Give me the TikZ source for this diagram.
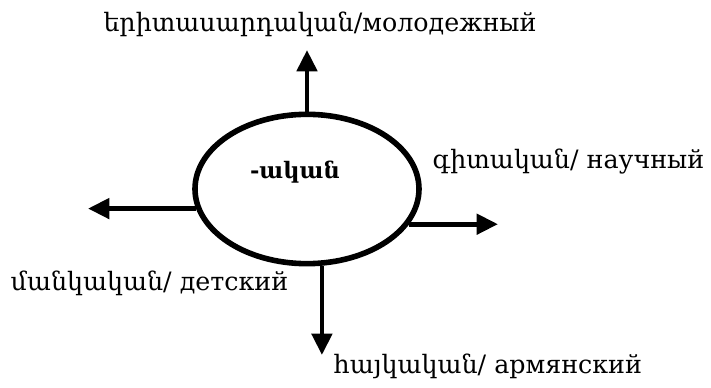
\documentclass[tikz,border=0pt]{standalone}
\usepackage{fontspec}
\setmainfont{DejaVu Serif}
\usetikzlibrary{shapes.geometric,arrows.meta}

\begin{document}
\begin{tikzpicture}[x=0.75pt, y=-0.75pt, font=\fontsize{19pt}{22pt}\selectfont,
    arr/.style={line width=3.6pt, -{Triangle[length=16pt, width=15pt]}}]
        \useasboundingbox (0,0) rectangle (711,388);
        \node[draw, ellipse, line width=4.2pt, minimum width=168pt, minimum height=112pt, inner sep=0pt] (akan) at (307,189) {};
        \node[font=\fontsize{17pt}{20pt}\selectfont\bfseries] (suffix) at (295,172) {-ական};

        \coordinate (tup) at (308,50);
        \coordinate (tleft) at (88,209);
        \coordinate (tright) at (498,225);
        \coordinate (tdown) at (321,355);

        \node (young) at (320,24) {երիտասարդական/молодежный};
        \node[anchor=west] (sci) at (428,162) {գիտական/ научный};
        \node[anchor=west] (child) at (6,283) {մանկական/ детский};
        \node[anchor=west] (arm) at (329,366) {հայկական/ армянский};

        \draw[arr] (akan.north) -- (akan.north |- tup);
        \draw[arr] (akan.190) -- (akan.190 -| tleft);
        \draw[arr] (akan.341) -- (akan.341 -| tright);
        \draw[arr] (akan.281) -- (akan.281 |- tdown);
    \end{tikzpicture}
\end{document}
